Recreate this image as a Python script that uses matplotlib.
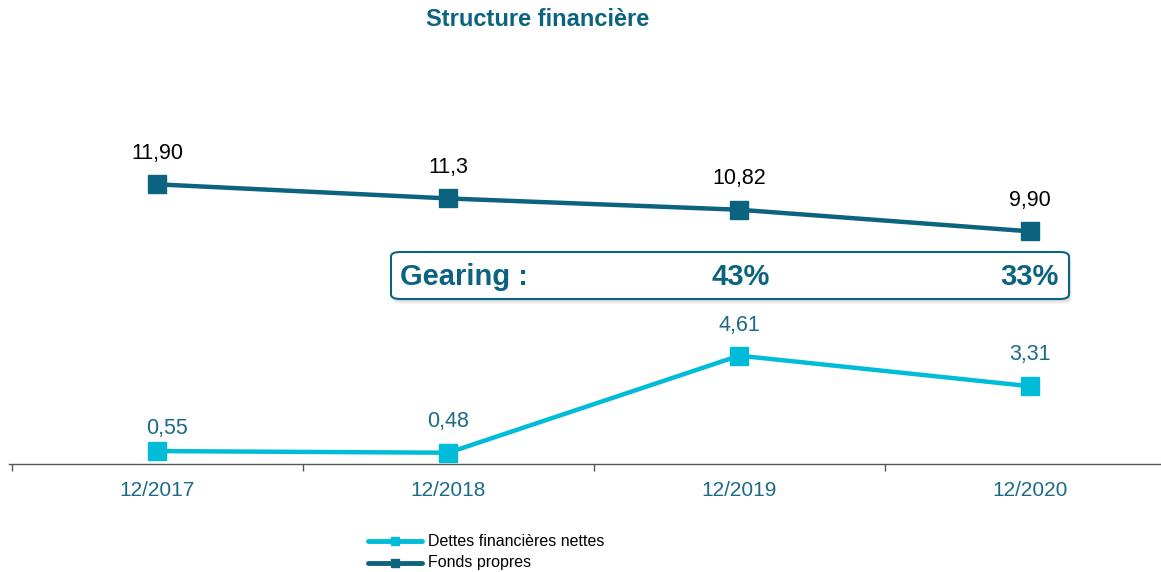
import matplotlib
matplotlib.use("Agg")
import matplotlib.pyplot as plt
from matplotlib.patches import FancyBboxPatch
from matplotlib.lines import Line2D

plt.rcParams['font.family'] = ['Liberation Sans', 'DejaVu Sans']

categories = ["12/2017", "12/2018", "12/2019", "12/2020"]
dettes = [0.55, 0.48, 4.61, 3.31]
fonds = [11.90, 11.30, 10.82, 9.90]
dettes_labels = ["0,55", "0,48", "4,61", "3,31"]
fonds_labels = ["11,90", "11,3", "10,82", "9,90"]
gearing_values = ["43%", "33%"]
legend_labels = ["Dettes financières nettes", "Fonds propres"]

DARK = "#0B6380"
LIGHT = "#00BCD9"
TEXT_TEAL = "#1C6A86"

# label offsets in pixels (layout only)
dettes_offsets_px = [(10, 23), (0, 31), (0, 30), (0, 32)]
fonds_offset_px = 31

W, H = 1161, 572
PT = 0.72  # points per pixel at 100 dpi
fig = plt.figure(figsize=(W / 100, H / 100), dpi=100)
ax = fig.add_axes([9 / W, (H - 464) / H, (W - 9) / W, (464 - 40) / H])

x = list(range(len(categories)))
ax.plot(x, fonds, color=DARK, lw=3.2, marker='s', ms=13, zorder=3)
ax.plot(x, dettes, color=LIGHT, lw=3.2, marker='s', ms=13, zorder=3)

for xi, v, s in zip(x, fonds, fonds_labels):
    ax.annotate(s, (xi, v), xytext=(0, fonds_offset_px * PT), textcoords='offset points',
                ha='center', va='center', fontsize=15.5, color='black')
for xi, v, s, (dx, dy) in zip(x, dettes, dettes_labels, dettes_offsets_px):
    ax.annotate(s, (xi, v), xytext=(dx * PT, dy * PT), textcoords='offset points',
                ha='center', va='center', fontsize=15.5, color=TEXT_TEAL)

for sp in ['top', 'right', 'left']:
    ax.spines[sp].set_visible(False)
ax.spines['bottom'].set_color('#555555')
ax.spines['bottom'].set_linewidth(1)
ax.set_yticks([])
ax.set_xticks([i - 0.5 for i in range(len(categories) + 1)])
ax.set_xticklabels([])
ax.tick_params(axis='x', length=5, color='#555555', width=1)
ax.set_xlim(-0.5 - 3 / 291, (W - 157) / 291)
ax.set_ylim(0, 424 / 23.5)
for xi, c in zip(x, categories):
    ax.annotate(c, (xi, 0), xytext=(0, -19), textcoords='offset points',
                ha='center', va='center', fontsize=15, color=TEXT_TEAL,
                annotation_clip=False)

# Title
fig.text(538 / W, 1 - 19 / H, "Structure financière", ha='center', va='center',
         fontsize=17, fontweight='bold', color=DARK)

# Gearing box (figure pixel coordinates)
bx0, by0, bx1, by1 = 391, 252, 1069, 299
for off, a in [(5, 0.25), (3.5, 0.35), (2, 0.45)]:
    sh = FancyBboxPatch(((bx0 + off * 0.5) / W, 1 - (by1 + off) / H), (bx1 - bx0) / W, (by1 - by0) / H,
                        boxstyle="round,pad=0,rounding_size=0.008", transform=fig.transFigure,
                        facecolor='#cfcfcf', edgecolor='none', alpha=a, zorder=4)
    fig.patches.append(sh)
box = FancyBboxPatch((bx0 / W, 1 - by1 / H), (bx1 - bx0) / W, (by1 - by0) / H,
                     boxstyle="round,pad=0,rounding_size=0.008", transform=fig.transFigure,
                     facecolor='white', edgecolor=DARK, lw=1.5, zorder=5)
fig.patches.append(box)
ty = 1 - 277 / H
fig.text(400 / W, ty, "Gearing :", ha='left', va='center', fontsize=21,
         fontweight='bold', color=DARK, zorder=6)
fig.text(741 / W, ty, gearing_values[0], ha='center', va='center', fontsize=21,
         fontweight='bold', color=DARK, zorder=6)
fig.text(1059 / W, ty, gearing_values[1], ha='right', va='center', fontsize=21,
         fontweight='bold', color=DARK, zorder=6)

# Legend (manual, figure pixel coordinates)
for (yy, col, lab) in [(541, LIGHT, legend_labels[0]), (563, DARK, legend_labels[1])]:
    ln = Line2D([368 / W, 422 / W], [1 - yy / H, 1 - yy / H], color=col, lw=3.5,
                transform=fig.transFigure, solid_capstyle='round')
    mk = Line2D([395 / W], [1 - yy / H], color=col, marker='s', ms=6, lw=0,
                transform=fig.transFigure)
    fig.add_artist(ln)
    fig.add_artist(mk)
    fig.text(428 / W, 1 - yy / H, lab, ha='left', va='center', fontsize=11.5, color='black')

fig.savefig("out.png", dpi=100)
